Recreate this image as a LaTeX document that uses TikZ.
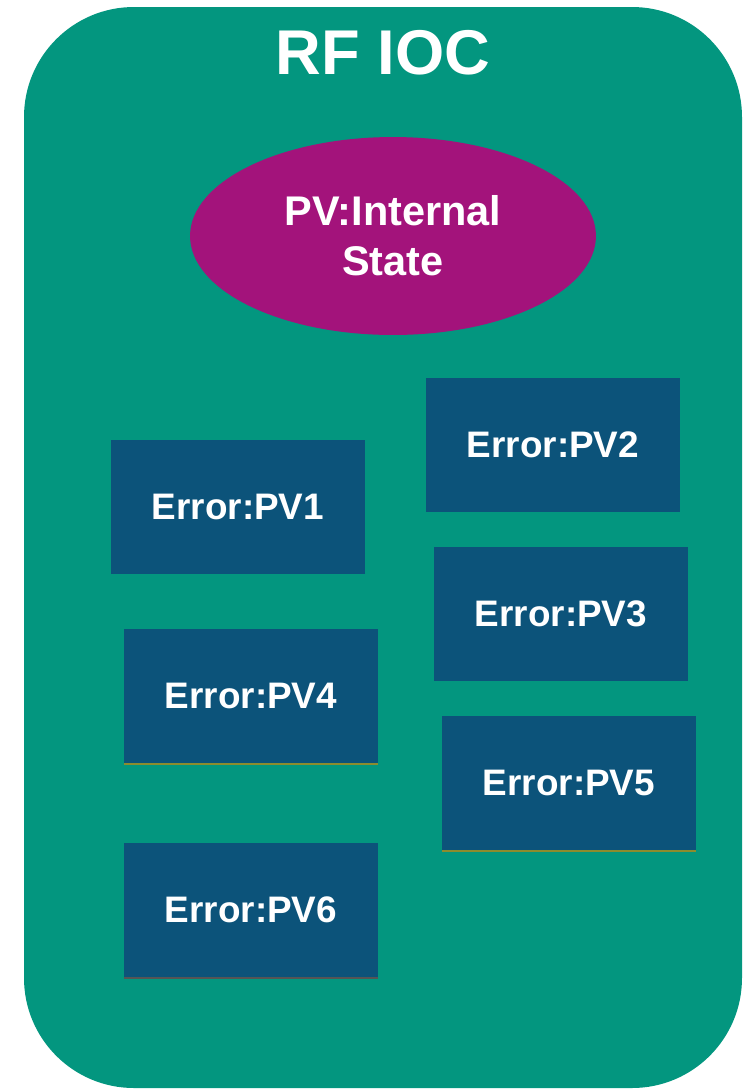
\documentclass[tikz,border=0pt]{standalone}
\usepackage{fontspec}
\setmainfont{Liberation Sans}
\usetikzlibrary{shapes.geometric}
\definecolor{iocgreen}{HTML}{03967F}
\definecolor{pvpurple}{HTML}{A3137B}
\definecolor{errblue}{HTML}{0C537A}
\definecolor{rimolive}{HTML}{8C8C2E}
\definecolor{rimgray}{HTML}{555555}
\tikzset{
	errbox/.style={fill=errblue, minimum width=5.08cm, minimum height=2.7cm, inner sep=0pt,
		text=white, font=\fontsize{21}{25}\selectfont\bfseries},
	rim/.style={line width=1.1pt, line cap=butt}
}

\begin{document}
\begin{tikzpicture}[x=0.02cm, y=-0.02cm, line join=round]
	\useasboundingbox (0,0) rectangle (754,1090);
	% IOC body
	\fill[iocgreen, rounded corners=2.2cm] (24,7) rectangle (742,1088);
	\node[text=white, font=\fontsize{36}{40}\selectfont\bfseries] (title) at (383,53) {RF IOC};
	\node[ellipse, fill=pvpurple, minimum width=8.12cm, minimum height=3.96cm, inner sep=0pt,
		align=center, text=white, font=\fontsize{23.6}{28.3}\selectfont\bfseries] (state) at (393,236) {PV:Internal\\State};
	% error PVs
	\node[errbox] (pv1) at (238,507) {Error:PV1};
	\node[errbox] (pv2) at (553,445) {Error:PV2};
	\node[errbox] (pv3) at (561,614) {Error:PV3};
	\node[errbox] (pv4) at (251,696) {Error:PV4};
	\node[errbox] (pv5) at (569,783) {Error:PV5};
	\node[errbox] (pv6) at (251,910) {Error:PV6};
	\draw[rim, rimolive] (pv4.south west) -- (pv4.south east);
	\draw[rim, rimolive] (pv5.south west) -- (pv5.south east);
	\draw[rim, rimgray] (pv6.south west) -- (pv6.south east);
\end{tikzpicture}
\end{document}
